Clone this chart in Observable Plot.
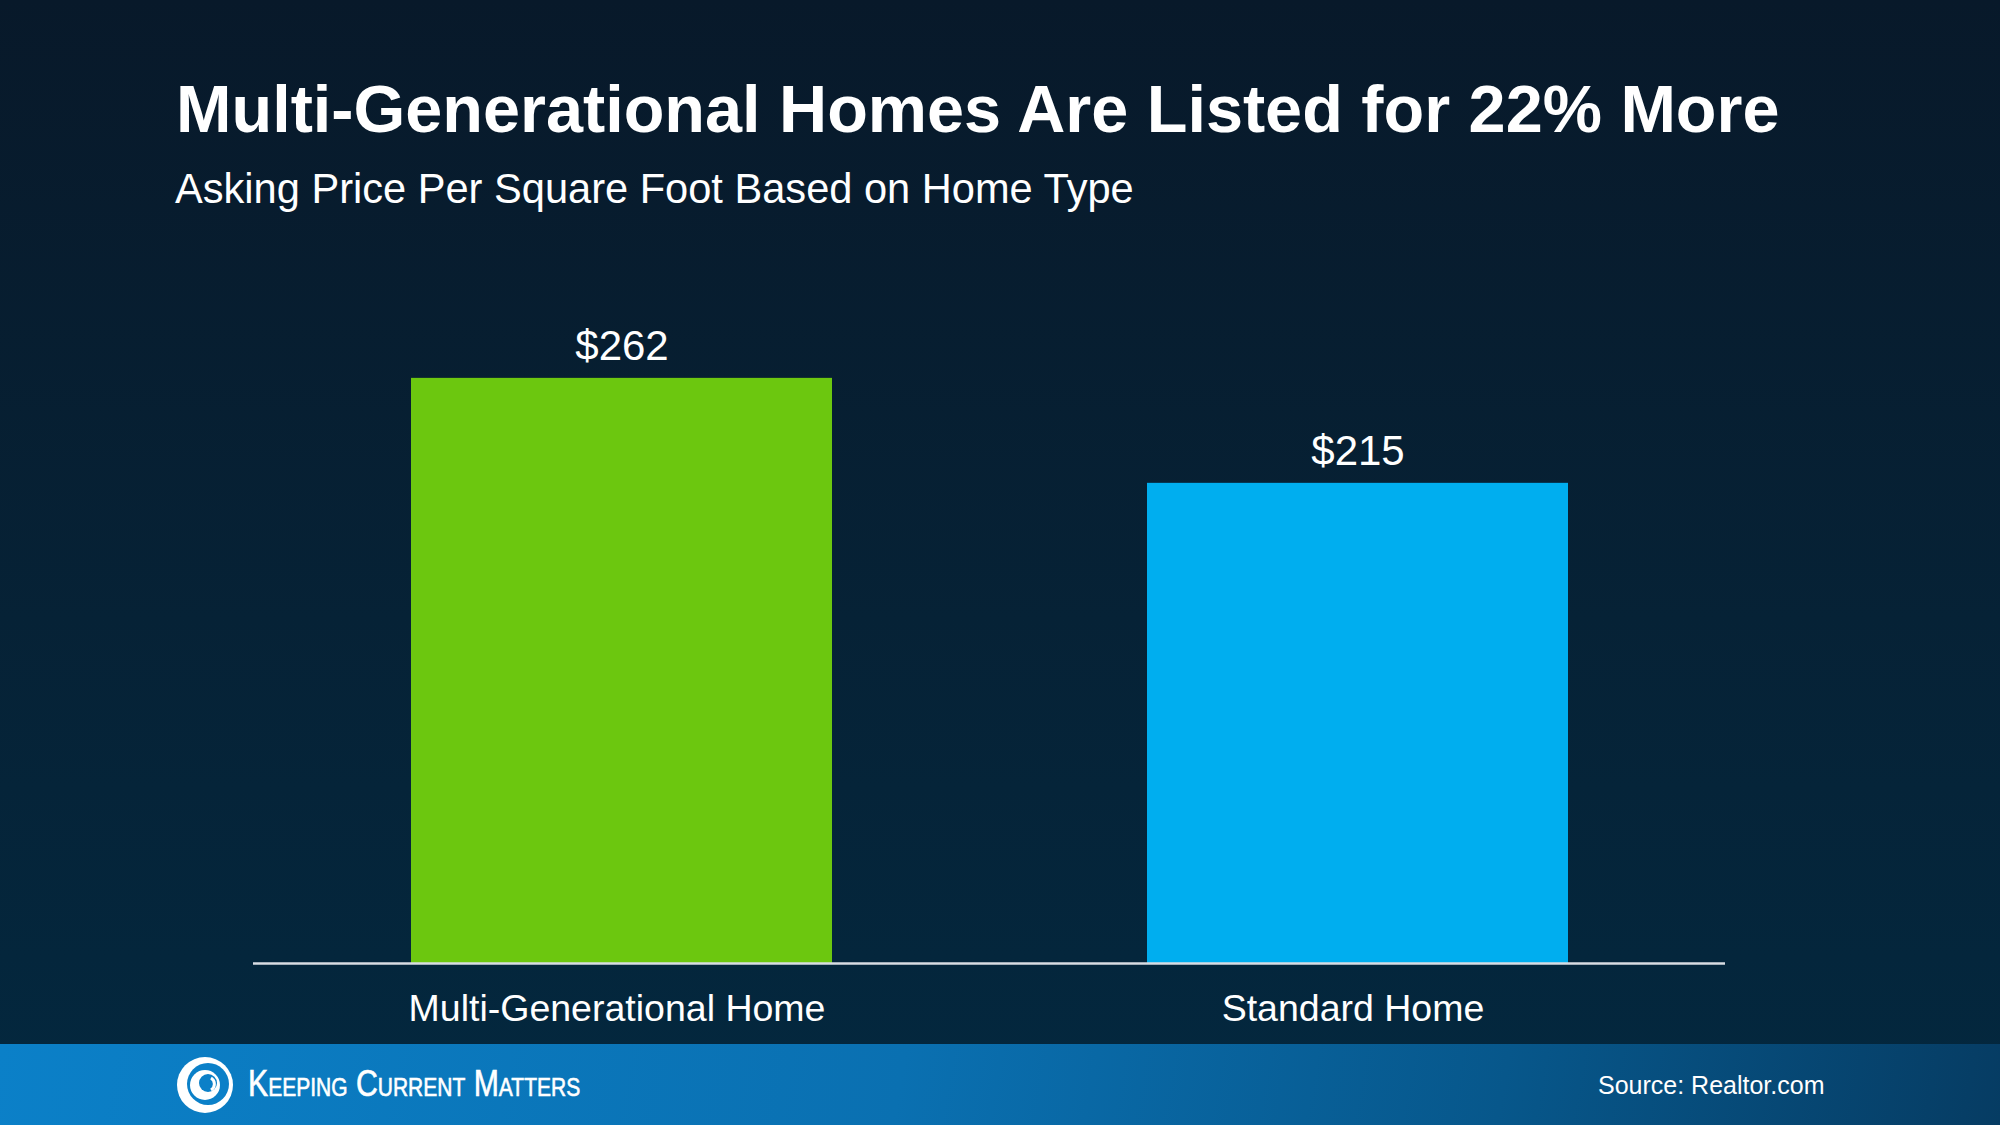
<!DOCTYPE html>
<html>
<head>
<meta charset="utf-8">
<script src="https://cdn.jsdelivr.net/npm/d3@7"></script>
<script src="https://cdn.jsdelivr.net/npm/@observablehq/plot@0.6"></script>
<style>
  html, body { margin: 0; padding: 0; }
  body { width: 2000px; height: 1125px; overflow: hidden; font-family: "Liberation Sans", Arial, Helvetica, sans-serif; }
  #page { position: relative; width: 2000px; height: 1125px;
    background: linear-gradient(180deg, #08192a 0%, #062236 55%, #03283f 100%); }
  #header { position: relative; height: 230px; }
  #title { position: absolute; left: 176px; top: 76px; margin: 0; color: #fff; font-weight: bold; font-size: 66.6px; line-height: 1; white-space: nowrap; }
  #subtitle { position: absolute; left: 175px; top: 168px; margin: 0; color: #fff; font-size: 41.6px; line-height: 1; white-space: nowrap; }
  #chart { position: absolute; left: 0; top: 230px; }
  #footer { position: absolute; left: 0; top: 1044px; width: 2000px; height: 81px;
    background: linear-gradient(100deg, #0b80c8 0%, #0a70b1 45%, #07578b 75%, #063c63 100%); }
  #logo { position: absolute; left: 175px; top: 9px; }
  #brand { position: absolute; left: 248px; top: 22px; color: #fff; font-family: "Liberation Sans", Arial, sans-serif; font-size: 36px; font-variant: small-caps; white-space: nowrap; line-height: 1; transform: scaleX(0.84); transform-origin: 0 0; -webkit-text-stroke: 0.6px #fff; }
  #source { position: absolute; left: 1598px; top: 29px; color: #fff; font-size: 25px; line-height: 1; white-space: nowrap; }
</style>
</head>
<body>
<div id="page">
  <div id="header">
    <div id="title">Multi-Generational Homes Are Listed for 22% More</div>
    <div id="subtitle">Asking Price Per Square Foot Based on Home Type</div>
  </div>
  <div id="chart"></div>
  <div id="footer">
    <svg id="logo" width="64" height="64" viewBox="0 0 64 64">
      <circle cx="30" cy="32" r="28" fill="#fff"/>
      <circle cx="33" cy="31" r="21" fill="#0b80c8"/>
      <circle cx="30" cy="32" r="15" fill="#fff"/>
      <circle cx="33" cy="30" r="9" fill="#0b80c8"/>
      <path d="M 36 25 A 7 7 0 0 1 36 37" stroke="#fff" stroke-width="3" fill="none"/>
    </svg>
    <div id="brand">Keeping Current Matters</div>
    <div id="source">Source: Realtor.com</div>
  </div>
</div>
<script>
const categories = ["Multi-Generational Home", "Standard Home"];
const values = [262, 215];
const labels = ["$262", "$215"];
const colors = ["#6cc70f", "#00aeef"];

const data = categories.map((c, i) => ({category: c, value: values[i], label: labels[i], color: colors[i]}));

const chart = Plot.plot({
  width: 2000,
  height: 814,
  marginLeft: 253,
  marginRight: 275,
  marginTop: 63,
  marginBottom: 81,
  style: {background: "transparent", color: "#fff", fontFamily: "'Liberation Sans', Arial, sans-serif"},
  x: {domain: categories, paddingInner: 0.428, paddingOuter: 0.214, label: null},
  y: {domain: [0, 300], axis: null},
  marks: [
    Plot.barY(data, {x: "category", y: "value", fill: "color"}),
    Plot.ruleY([0], {stroke: "#d8dde3", strokeWidth: 2.5}),
    Plot.text(data, {x: "category", y: "value", text: "label", fill: "#fff", fontSize: 42, lineAnchor: "bottom", dy: -18}),
    Plot.axisX({tickSize: 0, tickPadding: 31, fontSize: 37.5, dx: -5, color: "#fff", label: null})
  ]
});
document.getElementById("chart").appendChild(chart);
</script>
</body>
</html>
